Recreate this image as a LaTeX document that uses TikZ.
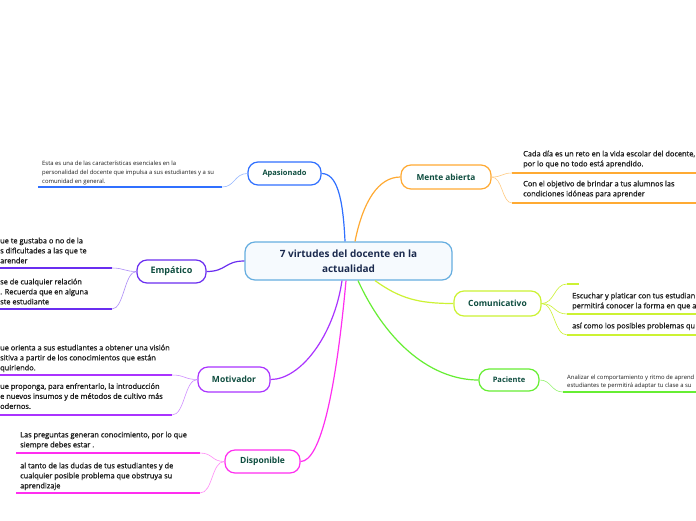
\documentclass[tikz,border=0pt]{standalone}
\usepackage{fontspec}
\setmainfont{Open Sans}
\newfontfamily\leaffont[FakeBold=1.2]{Open Sans}
\newfontfamily\smallleaffont{Open Sans}
\definecolor{cblue}{HTML}{3070FF}
\definecolor{corange}{HTML}{FFAA33}
\definecolor{cviolet}{HTML}{6A2EF0}
\definecolor{cpurple}{HTML}{AA33FF}
\definecolor{cmagenta}{HTML}{FF2EF0}
\definecolor{cyellow}{HTML}{CCF233}
\definecolor{cgreen}{HTML}{66EE33}
\definecolor{ccenter}{HTML}{66AEE0}
\definecolor{cfill}{HTML}{F6FAFE}
\definecolor{labelc}{HTML}{0E4D3F}
\definecolor{titlec}{HTML}{1B2A4E}
\definecolor{leafc}{HTML}{1E1E1E}
\tikzset{
  topic/.style={draw, rounded corners=10pt, line width=1.2pt, fill=white, text=labelc, inner sep=0pt},
  leaf/.style={anchor=north west, align=left, inner sep=0pt, text=leafc, font=\leaffont\fontsize{7.4}{10}\selectfont},
  leafsmall/.style={anchor=north west, align=left, inner sep=0pt, text=leafc, font=\smallleaffont\fontsize{5.9}{9}\selectfont},
  leafpac/.style={anchor=north west, align=left, inner sep=0pt, text=leafc, font=\smallleaffont\fontsize{5.9}{8.5}\selectfont},
  uline/.style={line width=1.8pt},
  conn/.style={line width=1.2pt},
  sub/.style={line width=0.6pt},
}
\begin{document}
\begin{tikzpicture}[x=1pt,y=-1pt]
\useasboundingbox[fill=white] (0,0) rectangle (696,520);

% central node
\node[topic, draw=ccenter, fill=cfill, minimum width=207pt, minimum height=38pt, text=titlec,
  font=\bfseries\fontsize{10}{14.5}\selectfont, align=center] (c) at (348.5,261) {7 virtudes del docente en la\\actualidad};

% topics
\node[topic, draw=cblue, minimum width=73pt, minimum height=23pt, font=\bfseries\fontsize{7.5}{9}\selectfont] (apas) at (284.5,173.5) {Apasionado};
\node[topic, draw=corange, minimum width=90pt, minimum height=24pt, font=\bfseries\fontsize{8.3}{10}\selectfont] (mente) at (446,177) {Mente abierta};
\node[topic, draw=cviolet, minimum width=69pt, minimum height=23pt, font=\bfseries\fontsize{9}{10}\selectfont] (emp) at (171.5,271.5) {Empático};
\node[topic, draw=cyellow, minimum width=87pt, minimum height=25pt, font=\bfseries\fontsize{8.5}{10}\selectfont] (com) at (497.5,303.5) {Comunicativo};
\node[topic, draw=cgreen, minimum width=60pt, minimum height=22pt, font=\bfseries\fontsize{7.5}{9}\selectfont] (pac) at (509,380) {Paciente};
\node[topic, draw=cpurple, minimum width=72pt, minimum height=25pt, font=\bfseries\fontsize{8.5}{10}\selectfont] (moti) at (234,379.5) {Motivador};
\node[topic, draw=cmagenta, minimum width=75pt, minimum height=23pt, font=\bfseries\fontsize{8.5}{10}\selectfont] (disp) at (262.5,461.5) {Disponible};

% anchor points on central node
\coordinate (cA) at ([xshift=-3.5pt]c.north);
\coordinate (cM) at ([xshift=6.5pt]c.north);
\coordinate (cMo) at ([xshift=-6.5pt]c.south);
\coordinate (cD) at ([xshift=-2.5pt]c.south);
\coordinate (cP) at ([xshift=9.5pt]c.south);
\coordinate (cC) at ([xshift=26.5pt]c.south);

% main connectors
\draw[conn, cblue] (cA) .. controls +(-2,-45) and +(15,0) .. (apas.east);
\draw[conn, corange] (cM) .. controls +(8,-40) and +(-22,0) .. (mente.west);
\draw[conn, cviolet] (c.west) .. controls +(-20,0) and +(20,0) .. (emp.east);
\draw[conn, cpurple] (cMo) .. controls +(-8,55) and +(30,0) .. (moti.east);
\draw[conn, cmagenta] (cD) .. controls +(-10,110) and +(20,0) .. (disp.east);
\draw[conn, cgreen] (cP) .. controls +(30,65) and +(-45,0) .. (pac.west);
\draw[conn, cyellow] (cC) .. controls +(25,18) and +(-35,0) .. (com.west);

% ---------- Apasionado leaf
\coordinate (a1s) at (38,187); \coordinate (a1e) at (222,187);
\draw[uline, cblue] (a1s) -- (a1e);
\draw[sub, cblue!50] (apas.west) .. controls +(-13,0) and +(13,0) .. (a1e);
\node[leafsmall] (a1t) at (42,160.5) {Esta es una de las características esenciales en la\\personalidad del docente que impulsa a sus estudiantes y a su\\comunidad en general.};

% ---------- Mente abierta leaves
\coordinate (m1s) at (512,173); \coordinate (m1e) at (696,173);
\coordinate (m2s) at (512,203); \coordinate (m2e) at (696,203);
\draw[uline, corange] (m1s) -- (m1e);
\draw[uline, corange] (m2s) -- (m2e);
\draw[sub, corange!60] (mente.east) .. controls +(11,0) and +(-10,0) .. (m1s);
\draw[sub, corange!60] (mente.east) .. controls +(11,0) and +(-10,0) .. (m2s);
\node[leaf] (m1t) at (523,150.5) {Cada día es un reto en la vida escolar del docente,\\por lo que no todo está aprendido.};
\node[leaf] (m2t) at (523,180.5) {Con el objetivo de brindar a tus alumnos las\\condiciones idóneas para aprender};

% ---------- Empático leaves
\coordinate (e1s) at (0,268); \coordinate (e1e) at (112,268);
\coordinate (e2s) at (0,309); \coordinate (e2e) at (112,309);
\draw[uline, cviolet] (e1s) -- (e1e);
\draw[uline, cviolet] (e2s) -- (e2e);
\draw[sub, cviolet!55] (emp.west) .. controls +(-12,0) and +(12,0) .. (e1e);
\draw[sub, cviolet!55] (emp.west) .. controls +(-12,0) and +(12,0) .. (e2e);
\node[leaf] (e1t) at (0,237.5) {ue te gustaba o no de la\\s dificultades a las que te\\arender};
\node[leaf] (e2t) at (0,278.5) {se de cualquier relación\\. Recuerda que en alguna\\ste estudiante};

% ---------- Motivador leaves
\coordinate (o1s) at (0,375); \coordinate (o1e) at (172,375);
\coordinate (o2s) at (0,415); \coordinate (o2e) at (172,415);
\draw[uline, cpurple] (o1s) -- (o1e);
\draw[uline, cpurple] (o2s) -- (o2e);
\draw[sub, cpurple!55] (moti.west) .. controls +(-13,0) and +(13,0) .. (o1e);
\draw[sub, cpurple!55] (moti.west) .. controls +(-13,0) and +(13,0) .. (o2e);
\node[leaf] (o1t) at (0,344.5) {ue orienta a sus estudiantes a obtener una visión\\sitiva a partir de los conocimientos que están\\quiriendo.};
\node[leaf] (o2t) at (0,383) {ue proponga, para enfrentarlo, la introducción\\e nuevos insumos y de métodos de cultivo más\\odernos.};

% ---------- Disponible leaves
\coordinate (d1s) at (16,453); \coordinate (d1e) at (200,453);
\coordinate (d2s) at (16,493); \coordinate (d2e) at (200,493);
\draw[uline, cmagenta] (d1s) -- (d1e);
\draw[uline, cmagenta] (d2s) -- (d2e);
\draw[sub, cmagenta!55] (disp.west) .. controls +(-13,0) and +(13,0) .. (d1e);
\draw[sub, cmagenta!55] (disp.west) .. controls +(-13,0) and +(13,0) .. (d2e);
\node[leaf] (d1t) at (20,431.5) {Las preguntas generan conocimiento, por lo que\\siempre debes estar .};
\node[leaf] (d2t) at (20,462.5) {al tanto de las dudas de tus estudiantes y de\\cualquier posible problema que obstruya su\\aprendizaje};

% ---------- Comunicativo leaves
\coordinate (k0s) at (567,284); \coordinate (k0e) at (579,284);
\coordinate (k1s) at (567,314); \coordinate (k1e) at (696,314);
\coordinate (k2s) at (567,335); \coordinate (k2e) at (696,335);
\draw[uline, cyellow] (k0s) -- (k0e);
\draw[uline, cyellow] (k1s) -- (k1e);
\draw[uline, cyellow] (k2s) -- (k2e);
\draw[sub, cyellow] (com.east) .. controls +(13,0) and +(-13,0) .. (k0s);
\draw[sub, cyellow] (com.east) .. controls +(13,0) and +(-13,0) .. (k1s);
\draw[sub, cyellow] (com.east) .. controls +(13,0) and +(-13,0) .. (k2s);
\node[leaf] (k1t) at (572,292.5) {Escuchar y platicar con tus estudian\\permitirá conocer la forma en que a};
\node[leaf] (k2t) at (572,322.5) {así como los posibles problemas qu};

% ---------- Paciente leaf
\coordinate (p1s) at (563,392); \coordinate (p1e) at (696,392);
\draw[uline, cgreen] (p1s) -- (p1e);
\draw[sub, cgreen!70] (pac.east) .. controls +(12,0) and +(-12,0) .. (p1s);
\node[leafpac] (p1t) at (567,374.6) {Analizar el comportamiento y ritmo de aprend\\estudiantes te permitirá adaptar tu clase a su};
\end{tikzpicture}
\end{document}
